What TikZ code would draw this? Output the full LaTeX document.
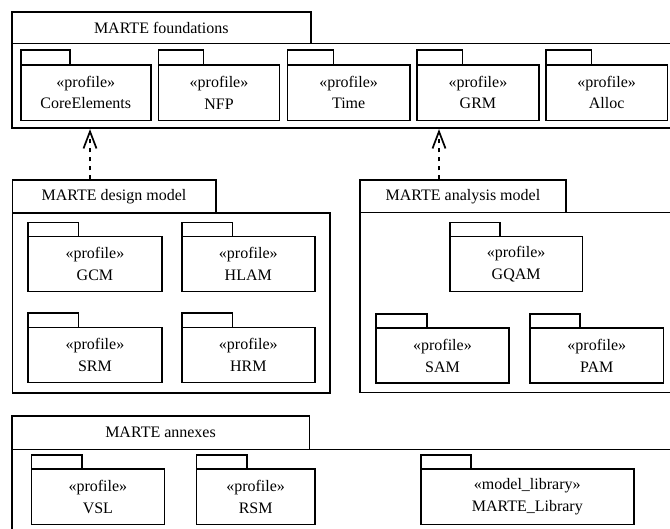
\documentclass[tikz,border=0pt]{standalone}
\usepackage{fontspec}
\setmainfont{Liberation Serif}
\usetikzlibrary{arrows.meta}

\newcommand{\pkgfont}{\rmfamily\fontsize{16pt}{21.5pt}\selectfont}

\tikzset{
  x=1pt, y=-1pt,
  umlline/.style={draw=black, line width=1.6pt},
  pkgtab/.style={umlline, rectangle, inner sep=0pt, anchor=north west},
  pkgbody/.style={umlline, rectangle, inner sep=0pt, anchor=north west,
                  align=center, font=\pkgfont},
  grouptab/.style={umlline, rectangle, inner sep=0pt, anchor=north west,
                   font=\pkgfont},
  groupbody/.style={umlline, rectangle, inner sep=0pt, anchor=north west},
  dep/.style={draw=black, line width=2pt, dash pattern=on 4.5pt off 4.5pt,
              -{Straight Barb[length=17pt,width=13pt,line width=1.7pt]}},
}

% A UML package: name, tab left, tab top, tab right, body top, body right, body bottom, text
\newcommand{\umlpkg}[8]{%
  \node[pkgtab, minimum width={#4-#2}, minimum height={#5-#3}] (#1-tab) at (#2,#3) {};
  \node[pkgbody, minimum width={#6-#2}, minimum height={#7-#5}] (#1) at (#2,#5) {#8};
}
% A containing package: name, tab left, tab top, tab right, tab bottom, body right, body bottom, title
\newcommand{\umlgroup}[8]{%
  \node[groupbody, minimum width={#6-#2}, minimum height={#7-#5}] (#1) at (#2,#5) {};
  \node[grouptab, minimum width={#4-#2}, minimum height={#5-#3}] (#1-tab) at (#2,#3) {#8};
}

\begin{document}
\begin{tikzpicture}
\useasboundingbox (0,0) rectangle (670,529);
\clip (0,0) rectangle (670,529);

% Foundations
\umlgroup{foundations}{11}{11}{310}{42.7}{700}{127.5}{MARTE foundations}
\umlpkg{core}{20}{49.3}{69}{64}{150}{119.7}{«profile»\\CoreElements}
\umlpkg{nfp}{157.7}{49.3}{202.7}{64}{278.7}{119.7}{«profile»\\NFP}
\umlpkg{time}{286.7}{49.3}{332.7}{64}{409}{119.7}{«profile»\\Time}
\umlpkg{grm}{416}{49.3}{461.7}{64}{538.3}{119.7}{«profile»\\GRM}
\umlpkg{alloc}{545}{49.3}{590.7}{64}{666.7}{119.7}{«profile»\\Alloc}

% Design model
\umlgroup{design}{11.5}{179.3}{215}{212.3}{329}{392}{MARTE design model}
\umlpkg{gcm}{27.3}{221.7}{77.7}{235.7}{161}{290.7}{«profile»\\GCM}
\umlpkg{hlam}{181}{221.7}{231.7}{235.7}{314}{290.7}{«profile»\\HLAM}
\umlpkg{srm}{27.3}{312.5}{77.7}{326.7}{161}{381.7}{«profile»\\SRM}
\umlpkg{hrm}{181}{312.5}{231.7}{326.7}{314}{381.7}{«profile»\\HRM}

% Analysis model
\umlgroup{analysis}{359.3}{179.3}{565}{211.7}{700}{391.7}{MARTE analysis model}
\umlpkg{gqam}{449}{221.7}{499.3}{235.7}{581.7}{290.7}{«profile»\\GQAM}
\umlpkg{sam}{375}{313}{426}{327.5}{508.3}{382.5}{«profile»\\SAM}
\umlpkg{pam}{529.3}{313}{579.3}{327.5}{662.7}{382.5}{«profile»\\PAM}

% Annexes
\umlgroup{annexes}{11}{415}{308.5}{448.7}{700}{560}{MARTE annexes}
\umlpkg{vsl}{30.7}{454.3}{81}{468.5}{163.5}{523.5}{«profile»\\VSL}
\umlpkg{rsm}{195.7}{454.3}{246}{468.5}{314}{523.5}{«profile»\\RSM}
\umlpkg{library}{420}{454.3}{470}{468.5}{633}{523.5}{«model\_library»\\MARTE\_Library}

% Dependencies on the foundations
\draw[dep] ([xshift=78.5pt]design-tab.north west)
        -- ([xshift=78.5pt]design-tab.north west |- foundations.south);
\draw[dep] ([xshift=79.7pt]analysis-tab.north west)
        -- ([xshift=79.7pt]analysis-tab.north west |- foundations.south);
\end{tikzpicture}
\end{document}
